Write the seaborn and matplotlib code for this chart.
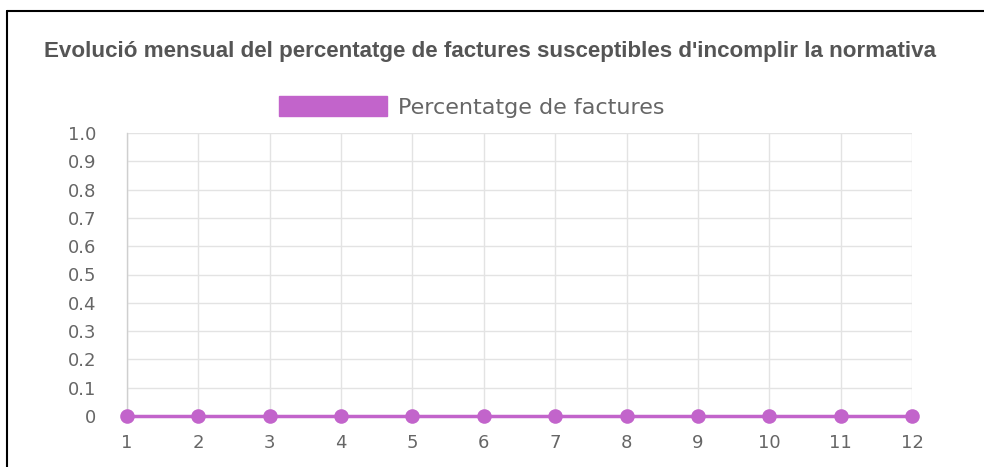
import matplotlib
matplotlib.use("Agg")
import matplotlib.pyplot as plt
import seaborn as sns
import pandas as pd
from matplotlib.patches import Patch
from matplotlib.lines import Line2D

months = [1, 2, 3, 4, 5, 6, 7, 8, 9, 10, 11, 12]
percentatge = [0, 0, 0, 0, 0, 0, 0, 0, 0, 0, 0, 0]
y_ticks = [0, 0.1, 0.2, 0.3, 0.4, 0.5, 0.6, 0.7, 0.8, 0.9, 1.0]
y_labels = ["0", "0.1", "0.2", "0.3", "0.4", "0.5", "0.6", "0.7", "0.8", "0.9", "1.0"]
title = "Evolució mensual del percentatge de factures susceptibles d'incomplir la normativa"
series_name = "Percentatge de factures"

sns.set_style("white")
plt.rcParams['font.family'] = ['DejaVu Sans']

W, H = 984, 467
fig = plt.figure(figsize=(W / 100, H / 100), dpi=100)
ax = fig.add_axes([127 / W, 1 - 416 / H, (912 - 127) / W, (416 - 133) / H])

df = pd.DataFrame({"mes": months, "valor": percentatge})
color = "#c264cb"
sns.lineplot(data=df, x="mes", y="valor", ax=ax, color=color, linewidth=2.5,
             marker="o", markersize=10.5, markeredgewidth=0, markerfacecolor=color,
             clip_on=False, zorder=5)

ax.set_xlim(1, 12)
ax.set_ylim(0, 1.0)
ax.set_xticks(months)
ax.set_xticklabels([str(m) for m in months])
ax.set_yticks(y_ticks)
ax.set_yticklabels(y_labels)
ax.set_xlabel("")
ax.set_ylabel("")

grid_c = "#e3e3e3"
ax.grid(True, color=grid_c, linewidth=1)
for s in ["top", "right", "bottom"]:
    ax.spines[s].set_visible(False)
ax.spines["left"].set_color("#cfcfcf")
ax.spines["left"].set_linewidth(1)
ax.tick_params(axis="y", length=20, width=1, color=grid_c, pad=2,
               labelsize=13, labelcolor="#666666")
ax.tick_params(axis="x", length=9, width=1, color=grid_c, pad=4,
               labelsize=13, labelcolor="#666666")

fig.text(490 / W, 1 - 52 / H, title, ha="center", va="center",
         fontsize=16.1, color="#555555", fontweight="bold",
         family=["Liberation Sans", "DejaVu Sans"])

fs = 16
em = fs * 100 / 72
handle = Patch(facecolor=color, edgecolor=color, label=series_name)
leg = fig.legend(handles=[handle], loc="center", bbox_to_anchor=(472 / W, 1 - 107 / H),
                 frameon=False, fontsize=fs, handlelength=108 / em, handleheight=21 / em,
                 handletextpad=11 / em, borderpad=0)
for t in leg.get_texts():
    t.set_color("#666666")

fig.add_artist(Line2D([7 / W, 1], [1 - 11 / H, 1 - 11 / H], color="black", linewidth=1.5,
                      transform=fig.transFigure))
fig.add_artist(Line2D([7 / W, 7 / W], [0, 1 - 11 / H], color="black", linewidth=1.5,
                      transform=fig.transFigure))

fig.savefig("out.png", dpi=100, facecolor="white")
